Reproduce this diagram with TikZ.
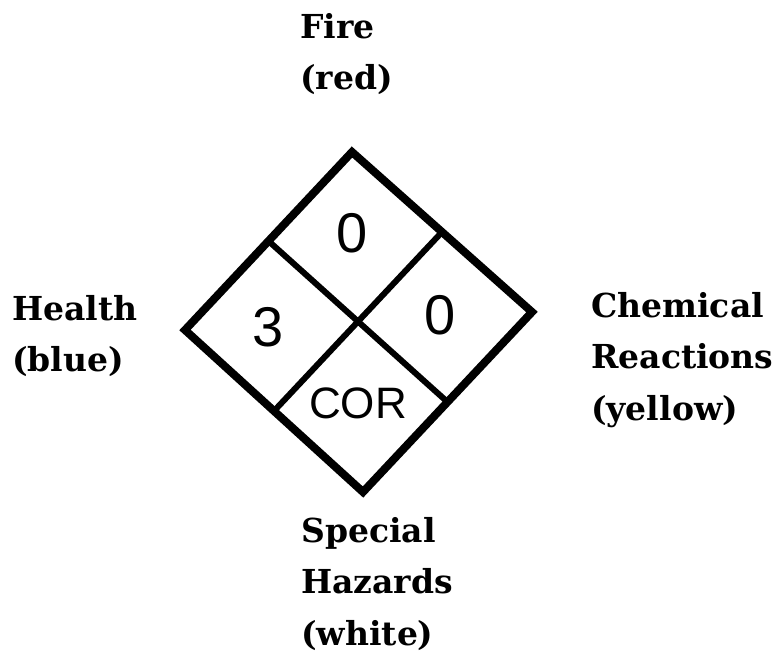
\documentclass[tikz,border=0pt]{standalone}
\usepackage{fontspec}
\setmainfont{DejaVu Serif}
\newfontfamily\numfont{Liberation Sans}
\usetikzlibrary{positioning,calc}

\begin{document}
\begin{tikzpicture}[x=1pt,y=-1pt,
  lbl/.style={font=\fontsize{33}{51.5}\selectfont\bfseries,align=left,anchor=north west,inner sep=0pt},
  num/.style={font=\fontsize{56}{56}\selectfont\numfont,inner sep=0pt},
  code/.style={font=\fontsize{44}{44}\selectfont\numfont,inner sep=0pt},
  rim/.style={line width=8pt,line join=miter},
  split/.style={line width=6pt}]
  \useasboundingbox (0,0) rectangle (775,657);
  % diamond corners
  \coordinate (top) at (352,152);
  \coordinate (right) at (532,312);
  \coordinate (bottom) at (363,492);
  \coordinate (left) at (185,330);
  \coordinate (tl) at ($(top)!0.5!(left)$);
  \coordinate (tr) at ($(top)!0.5!(right)$);
  \coordinate (bl) at ($(bottom)!0.5!(left)$);
  \coordinate (br) at ($(bottom)!0.5!(right)$);

  \draw[split] (tl) -- (br);
  \draw[split] (tr) -- (bl);
  \draw[rim] (top) -- (right) -- (bottom) -- (left) -- cycle;

  \node[num] (firenum) at (352,233) {0};
  \node[num] (healthnum) at (268,327) {3};
  \node[num] (reactnum) at (440,315) {0};
  \node[code] (specialcode) at (358,403) {COR};

  \node[lbl] (fire) at (300,13) {Fire\\(red)};
  \node[lbl] (health) at (12,295) {Health\\(blue)};
  \node[lbl] (react) at (591,292) {Chemical\\Reactions\\(yellow)};
  \node[lbl] (special) at (301,517) {Special\\Hazards\\(white)};
\end{tikzpicture}
\end{document}
